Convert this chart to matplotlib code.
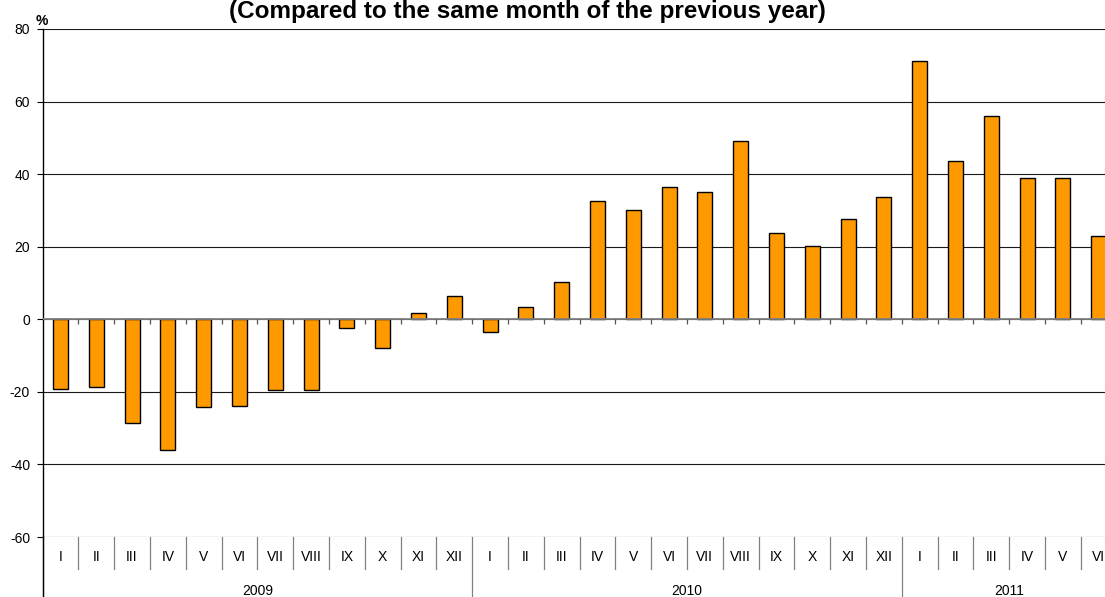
import matplotlib.pyplot as plt
from matplotlib.transforms import blended_transform_factory

plt.rcParams['font.family'] = ['Liberation Sans', 'DejaVu Sans']
plt.rcParams['axes.unicode_minus'] = False

years = ['2009', '2010', '2011']
months = ['I', 'II', 'III', 'IV', 'V', 'VI', 'VII', 'VIII', 'IX', 'X', 'XI', 'XII']
months_per_year = [12, 12, 6]

# variacao em % face ao mesmo mes do ano anterior
values = [
    -19.2, -18.7, -28.5, -36.0, -24.2, -23.9, -19.4, -19.4, -2.3, -7.8, 1.8, 6.3,
    -3.4, 3.4, 10.3, 32.6, 30.2, 36.5, 35.0, 49.0, 23.8, 20.2, 27.6, 33.7,
    71.3, 43.5, 56.0, 38.9, 38.9, 23.0,
]

labels = []
for n in months_per_year:
    labels += months[:n]
x = list(range(len(values)))

fig = plt.figure(figsize=(11.05, 5.97), dpi=100)
ax = fig.add_axes([0.0385, 0.1005, 0.972, 0.851])

ax.bar(x, values, width=0.42, color='#FF9900', edgecolor='black', linewidth=1.0, zorder=3)

ax.set_xlim(-0.5, len(values) - 0.5)
ax.set_ylim(-60, 80)
ax.set_yticks(range(-60, 81, 20))
ax.yaxis.grid(True, color='#1a1a1a', linewidth=0.8)
ax.set_axisbelow(True)

for s in ['top', 'right', 'bottom']:
    ax.spines[s].set_visible(False)
ax.spines['left'].set_linewidth(1.0)
ax.tick_params(axis='y', length=4, width=0.8, labelsize=10, pad=5)

# eixo das categorias passa no zero
ax.axhline(0, color='#808080', linewidth=1.3, zorder=4)
ax.vlines([i + 0.5 for i in x[:-1]], -1.3, 0, color='#555555', linewidth=0.9, zorder=4)

# rotulos de mes
ax.set_xticks(x)
ax.set_xticklabels(labels, fontsize=10)
ax.tick_params(axis='x', length=0, pad=9.5)

trans = blended_transform_factory(ax.transData, ax.transAxes)
bounds = [i - 0.5 for i in range(len(values) + 1)]
year_edges = [-0.5]
for n in months_per_year:
    year_edges.append(year_edges[-1] + n)

for b in bounds:
    if b in year_edges:
        ax.plot([b, b], [0, -0.125], transform=trans, color='#808080', lw=0.9, clip_on=False)
    else:
        ax.plot([b, b], [0, -0.063], transform=trans, color='#808080', lw=0.9, clip_on=False)
ax.plot([-0.5, -0.5], [0, -0.125], transform=trans, color='black', lw=1.0, clip_on=False)

# rotulos de ano
for i, y in enumerate(years):
    centro = (year_edges[i] + year_edges[i + 1]) / 2
    ax.text(centro, -0.106, y, transform=trans, ha='center', va='center', fontsize=10)

fig.text(0.477, 0.97, '(Compared to the same month of the previous year)',
         ha='center', va='baseline', fontsize=17.5, fontweight='bold')
fig.text(0.0326, 0.958, '%', ha='left', va='baseline', fontsize=10, fontweight='bold')

fig.savefig('out.png', dpi=100)
